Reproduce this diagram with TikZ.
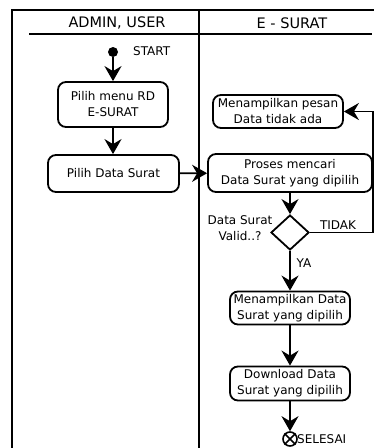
\documentclass[tikz,border=0pt]{standalone}
\usepackage{fontspec}
\setmainfont{DejaVu Sans}
\usetikzlibrary{arrows.meta,shapes.geometric}
\begin{document}
\begin{tikzpicture}[x=1pt,y=-1pt,
  act/.style={draw,line width=1.8pt,rounded corners=8pt,align=center,inner sep=0pt,
    font=\fontsize{12}{16}\selectfont},
  flow/.style={line width=1.8pt,-{Stealth[length=15pt,width=17pt,inset=5pt]}},
  lane/.style={line width=2pt},
  lbl/.style={font=\fontsize{12}{16}\selectfont,align=center,inner sep=0pt},
  head/.style={font=\fontsize{14.5}{16}\selectfont,inner sep=0pt}]
\useasboundingbox (0,0) rectangle (374,448);

% swimlane frame
\draw[lane] (12,448) -- (12,10) -- (374,10);
\draw[lane] (199,10) -- (199,448);
\draw[lane] (29,34) -- (372,34);
\node[head] (hA) at (117,23) {ADMIN, USER};
\node[head] (hB) at (292,23) {E - SURAT};

% start
\node[circle,fill,inner sep=0pt,minimum size=10pt] (start) at (113,52) {};
\node[lbl,anchor=west] (startlbl) at (133,51) {START};

% activities
\node[act,minimum width=110pt,minimum height=45pt] (menu) at (113,104.5) {Pilih menu RD\\E-SURAT};
\node[act,minimum width=131pt,minimum height=37pt] (pilih) at (113.5,173.5) {Pilih Data Surat};
\node[act,minimum width=130pt,minimum height=33pt] (pesan) at (278,111.5) {Menampilkan pesan\\Data tidak ada};
\node[act,minimum width=164pt,minimum height=38pt] (proses) at (290,173) {Proses mencari\\Data Surat yang dipilih};
\node[diamond,draw,line width=1.8pt,inner sep=0pt,minimum width=38pt,minimum height=35pt] (valid) at (290,232.5) {};
\node[act,minimum width=120pt,minimum height=33pt] (tampil) at (290,308) {Menampilkan Data\\Surat yang dipilih};
\node[act,minimum width=120pt,minimum height=34pt] (unduh) at (290,383.5) {Download Data\\Surat yang dipilih};

% end
\node[circle,draw,line width=1.6pt,inner sep=0pt,minimum size=14pt] (end) at (290,439) {};
\draw[line width=1.6pt] (end.north west) -- (end.south east) (end.north east) -- (end.south west);
\node[lbl,anchor=west] (endlbl) at (297,439) {SELESAI};

% labels
\node[lbl] (qlbl) at (240,228) {Data Surat\\Valid..?};
\node[lbl] (nolbl) at (338,225) {TIDAK};
\node[lbl] (yalbl) at (304,263) {YA};

% flows
\coordinate (r1) at (373,232.5);
\coordinate (r2) at (373,111.5);
\draw[flow] (start) -- (menu);
\draw[flow] (menu) -- (menu |- pilih.north);
\draw[flow] (pilih) -- (proses);
\draw[flow] (proses) -- (valid);
\draw[flow] (valid) -- (tampil);
\draw[flow] (tampil) -- (unduh);
\draw[flow] (unduh) -- (end);
\draw[flow] (valid.east) -- (r1) -- (r2) -- (pesan.east);
\end{tikzpicture}
\end{document}
